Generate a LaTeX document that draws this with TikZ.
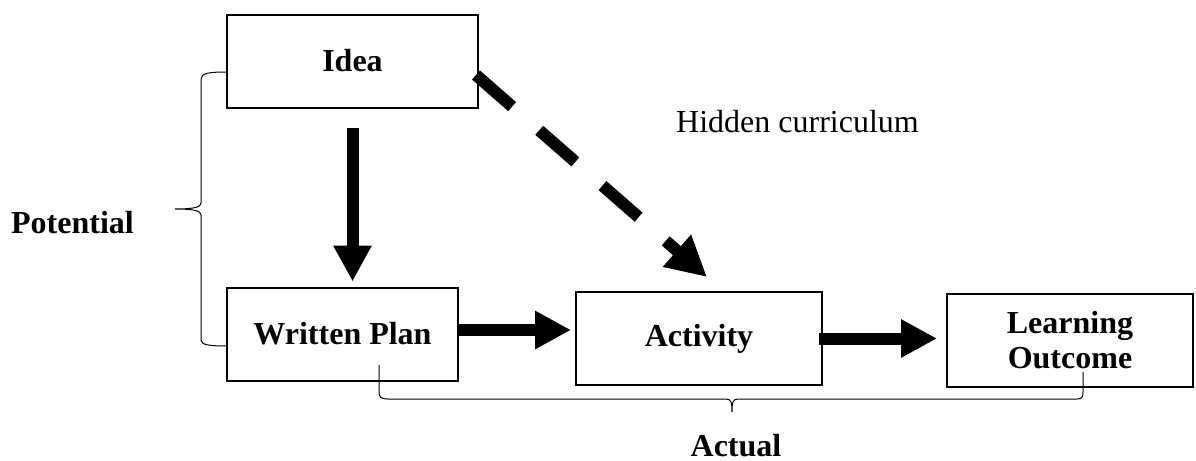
\documentclass[tikz,border=0pt]{standalone}
\usepackage{fontspec}
\setmainfont{Liberation Serif}
\usepackage{tikz}
\usetikzlibrary{arrows.meta}

\begin{document}
\begin{tikzpicture}[x=0.5pt, y=-0.5pt,
    font=\fontsize{16}{17.5}\selectfont,
    box/.style={draw, line width=1pt, inner sep=0pt, minimum height=46.5pt, align=center, font=\fontsize{16}{17.5}\selectfont\bfseries},
    bigarrow/.style={line width=6pt, -{Triangle[length=18pt, width=18pt]}},
    dasharrow/.style={line width=6pt, dash pattern=on 24pt off 18pt, -{Triangle[length=20pt, width=20pt]}},
    bracket/.style={line width=0.5pt},
    label/.style={anchor=base, inner sep=0pt}]
    \useasboundingbox (0,0) rectangle (1196,461);

    % Boxes
    \node[box, minimum width=125.5pt] (idea) at (352.5,61) {Idea};
    \node[box, minimum width=115.5pt] (plan) at (342.5,334) {Written Plan};
    \node[box, minimum width=123pt] (act) at (699,338.5) {Activity};
    \node[box, minimum width=123pt] (lo) at (1070,340.5) {Learning\\Outcome};

    % Arrows
    \draw[bigarrow, shorten <=9.5pt, shorten >=2.5pt] (idea.south) -- (idea.south |- plan.north);
    \draw[bigarrow, shorten >=2pt] ([yshift=2pt]plan.east) -- ([yshift=2pt]plan.east -| act.west);
    \draw[bigarrow, shorten <=-2pt, shorten >=4.5pt] (act.east) -- (act.east -| lo.west);
    \draw[dasharrow] ([xshift=-1.5pt, yshift=-7pt]idea.east) -- ([xshift=4pt, yshift=7pt]act.north);

    % Braces
    \draw[bracket] (227,72) .. controls (210,72) and (201,73) .. (201,79) -- (201,203)
        .. controls (201,207) and (195,209) .. (175,209)
        .. controls (195,209) and (201,211) .. (201,215) -- (201,340)
        .. controls (201,345) and (210,346) .. (227,346);
    \draw[bracket] (379,365) -- (379,392) .. controls (379,397) and (381,399) .. (388,399) -- (726,399)
        .. controls (731,399) and (732,402) .. (732,412)
        .. controls (732,402) and (733,399) .. (738,399) -- (1077,399)
        .. controls (1082,399) and (1083,397) .. (1083,392) -- (1083,372);

    % Labels
    \node[label, font=\fontsize{16}{17.5}\selectfont\bfseries] (pot) at (72.5,233) {Potential};
    \node[label, font=\fontsize{16}{17.5}\selectfont\bfseries] (actual) at (736,456) {Actual};
    \node[label] (hidden) at (797.5,132) {Hidden curriculum};
\end{tikzpicture}
\end{document}
